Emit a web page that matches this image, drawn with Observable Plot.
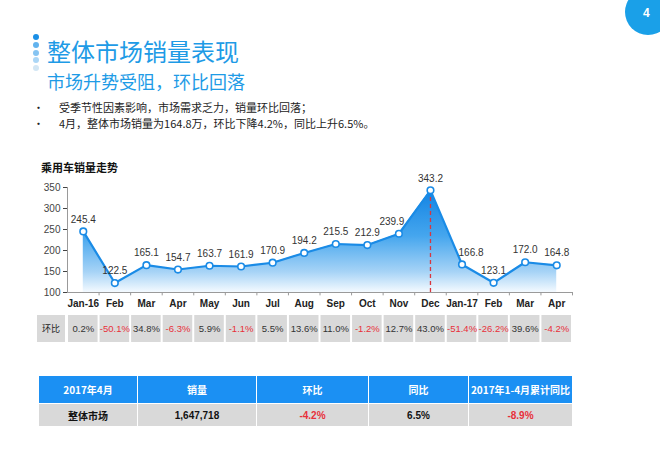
<!DOCTYPE html>
<html><head><meta charset="utf-8">
<script src="https://cdn.jsdelivr.net/npm/d3@7"></script>
<script src="https://cdn.jsdelivr.net/npm/@observablehq/plot@0.6"></script>
<style>
html,body{margin:0;padding:0;background:#fff}
body{width:660px;height:470px;position:relative;overflow:hidden;font-family:"Noto Sans CJK SC","Liberation Sans",sans-serif}
.abs{position:absolute}
.title{left:47px;top:38px;font-size:24px;line-height:26px;color:#1e9be6;white-space:nowrap}
.sub{left:47px;top:71px;font-size:18px;line-height:20px;color:#1e9be6;white-space:nowrap}
.bul{left:33px;font-size:11px;line-height:15px;color:#222;white-space:nowrap}
.bul span{position:absolute;left:26px;top:0}
.dot{position:absolute;width:6px;height:6px;border-radius:50%;left:33px}
.badge{left:625px;top:-11px;width:46px;height:46px;border-radius:50%;background:#1aa0e8;color:#fff;font:bold 12px "Liberation Sans",sans-serif;}
.badge b{position:absolute;left:18px;top:17px}
.ctitle{left:41px;top:159px;font-size:11px;font-weight:bold;color:#111;white-space:nowrap}
table.sum{position:absolute;left:38px;top:375px;border-collapse:collapse;table-layout:fixed}
table.sum td{text-align:center;font-weight:bold;padding:0;border:1.5px solid #fff}
table.sum tr.h td{background:#1b90f3;color:#fff;height:27px;font-size:10px}
table.sum tr.d td{background:#d9d9d9;color:#111;height:22px;font-size:10px;font-family:"Liberation Sans","Noto Sans CJK SC",sans-serif}
</style></head><body>
<script>
// ---- data ----
const months = ["Jan-16","Feb","Mar","Apr","May","Jun","Jul","Aug","Sep","Oct","Nov","Dec","Jan-17","Feb","Mar","Apr"];
const monthKeys = months.map((m, i) => i + ":" + m);
const sales = [245.4,122.5,165.1,154.7,163.7,161.9,170.9,194.2,215.5,212.9,239.9,343.2,166.8,123.1,172.0,164.8];
const momPct = [0.2,-50.1,34.8,-6.3,5.9,-1.1,5.5,13.6,11.0,-1.2,12.7,43.0,-51.4,-26.2,39.6,-4.2];
const yTicks = [100,150,200,250,300,350];
const peakIndex = 11;
const rowLabel = "环比";
const tableHeaders = ["2017年4月","销量","环比","同比","2017年1-4月累计同比"];
const tableRow = ["整体市场","1,647,718","-4.2%","6.5%","-8.9%"];
const tableColWidths = [99,119,112,100,104];
const titleText = "整体市场销量表现";
const subtitleText = "市场升势受阻，环比回落";
const bullets = ["受季节性因素影响，市场需求乏力，销量环比回落；","4月，整体市场销量为164.8万，环比下降4.2%，同比上升6.5%。"];
const chartTitle = "乘用车销量走势";
const pageNo = "4";

const BLUE = "#1a8be6", RED = "#e8303a";
const body = document.body;
function add(html){ const t = document.createElement("template"); t.innerHTML = html.trim(); const el = t.content.firstChild; body.appendChild(el); return el; }

// header decorations & text
["#1a8fe6","#62b3ee","#86c4f2","#abd6f6","#d2e6f4"].forEach((c,i)=>{
  add(`<div class="dot" style="top:${34+i*7.8}px;background:${c}"></div>`);
});
add(`<div class="abs title">${titleText}</div>`);
add(`<div class="abs sub">${subtitleText}</div>`);
bullets.forEach((b,i)=> add(`<div class="abs bul" style="top:${100+i*15.5}px">•<span>${b}</span></div>`));
add(`<div class="abs badge"><b>${pageNo}</b></div>`);
add(`<div class="abs ctitle">${chartTitle}</div>`);

// ---- main chart ----
const data = monthKeys.map((k,i)=>({key:k, value:sales[i], i}));
const W = 660, ML = 67, MR = 88;
const bw = (W - ML - MR) / months.length;
const yMin = yTicks[0], yMax = yTicks[yTicks.length-1];
const fmtKey = k => k.split(":")[1];
// label nudges (layout only)
const shiftLeft = new Set([10]), shiftRight = new Set([12]);

const defs = () => {
  const g = d3.create("svg:defs");
  const lg = g.append("linearGradient").attr("id","areaGrad").attr("x1",0).attr("y1",0).attr("x2",0).attr("y2",1);
  [[0,"#1283e3",1],[0.45,"#45a6ee",1],[0.8,"#a6d3f6",1],[1,"#f4faff",1]].forEach(([o,c,a])=>
    lg.append("stop").attr("offset",o).attr("stop-color",c).attr("stop-opacity",a));
  return g.node();
};

const labelOpts = {x: "key", y: "value", text: d => d.value.toFixed(1), dy: -12, fontSize: 10, fill: "#333"};

const chart = Plot.plot({
  width: W, height: 140,
  marginLeft: ML, marginRight: MR, marginTop: 17, marginBottom: 18,
  style: {fontFamily: "'Liberation Sans', Arial, sans-serif", fontSize: "10px", color: "#333", overflow: "visible", background: "transparent"},
  x: {type: "band", domain: monthKeys, padding: 0, round: false, label: null},
  y: {domain: [yMin, yMax], label: null},
  marks: [
    defs,
    Plot.areaY(data, {x: "key", y1: () => yMin, y2: "value", fill: "url(#areaGrad)"}),
    Plot.ruleX([data[peakIndex]], {x: "key", y1: () => yMin, y2: "value", stroke: "#d9363e", strokeWidth: 1.3, strokeDasharray: "4,3"}),
    Plot.ruleY([yMin], {stroke: "#9a9a9a", strokeWidth: 1}),
    Plot.ruleX([monthKeys[0]], {dx: -bw/2, y1: () => yMin, y2: () => yMax, stroke: "#9a9a9a"}),
    Plot.ruleX(monthKeys, {dx: bw/2, y1: () => yMin, y2: () => yMin - 8, stroke: "#9a9a9a"}),
    Plot.lineY(data, {x: "key", y: "value", stroke: BLUE, strokeWidth: 2.2}),
    Plot.dot(data, {x: "key", y: "value", r: 3.3, fill: "white", stroke: BLUE, strokeWidth: 1.6}),
    Plot.text(data, {...labelOpts, filter: d => !shiftLeft.has(d.i) && !shiftRight.has(d.i)}),
    Plot.text(data, {...labelOpts, filter: d => shiftLeft.has(d.i), dx: -7}),
    Plot.text(data, {...labelOpts, filter: d => shiftRight.has(d.i), dx: 9}),
    Plot.axisX({tickSize: 0, tickPadding: 7, fontSize: 10, fontWeight: "bold", color: "#222", tickFormat: fmtKey, label: null}),
    Plot.axisY(yTicks, {tickSize: 4, tickPadding: 3, fontSize: 10, color: "#444", label: null})
  ]
});
chart.style.position = "absolute"; chart.style.left = "0px"; chart.style.top = "170px";
body.appendChild(chart);

// ---- 环比 row ----
add(`<div class="abs" style="left:37px;top:315px;width:28px;height:27px;background:#d9d9d9;font-size:9px;line-height:27px;text-align:center;color:#222">${rowLabel}</div>`);
const row = Plot.plot({
  width: W, height: 27,
  marginLeft: ML, marginRight: MR, marginTop: 0, marginBottom: 0,
  style: {fontFamily: "'Liberation Sans', Arial, sans-serif", fontSize: "9.5px", overflow: "visible", background: "transparent"},
  x: {type: "band", domain: monthKeys, padding: 0, round: false, axis: null},
  color: {type: "identity"},
  marks: [
    Plot.cell(monthKeys, {x: d => d, fill: "#d9d9d9", insetLeft: 1, insetRight: 1}),
    Plot.text(momPct, {x: (d,i) => monthKeys[i], text: d => d.toFixed(1) + "%", fill: d => d < 0 ? RED : "#333", fontSize: 9.5})
  ]
});
row.style.position = "absolute"; row.style.left = "0px"; row.style.top = "315px";
body.appendChild(row);

// ---- summary table ----
const tbl = document.createElement("table"); tbl.className = "sum";
const cg = document.createElement("colgroup");
tableColWidths.forEach(w => { const c = document.createElement("col"); c.style.width = w + "px"; cg.appendChild(c); });
tbl.appendChild(cg);
const trH = document.createElement("tr"); trH.className = "h";
tableHeaders.forEach(h => { const td = document.createElement("td"); td.textContent = h; trH.appendChild(td); });
const trD = document.createElement("tr"); trD.className = "d";
tableRow.forEach((v,i) => { const td = document.createElement("td"); td.textContent = v; if (i === 0) td.style.fontFamily = "'Noto Sans CJK SC',sans-serif"; if (/^-/.test(v)) td.style.color = RED; trD.appendChild(td); });
tbl.appendChild(trH); tbl.appendChild(trD);
body.appendChild(tbl);
</script>
</body></html>
